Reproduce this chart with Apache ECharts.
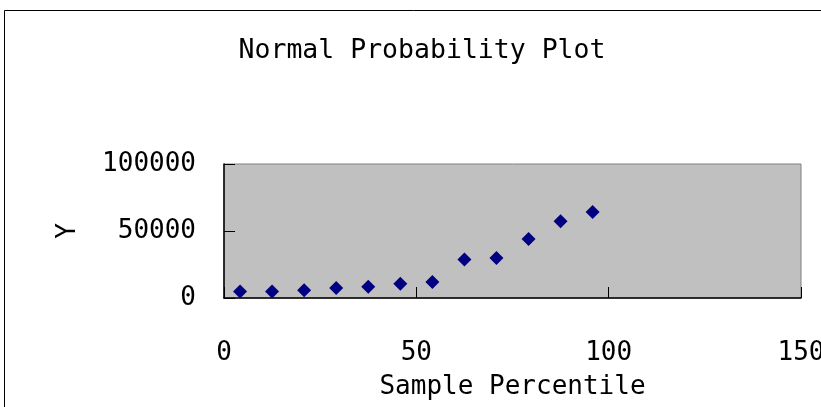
<!DOCTYPE html>
<html>
<head>
<meta charset="utf-8">
<title>Normal Probability Plot</title>
<script src="https://cdn.jsdelivr.net/npm/echarts@6/dist/echarts.min.js"></script>
<style>
  html, body { margin: 0; padding: 0; background: #fff; }
  #chart { width: 821px; height: 407px; }
</style>
</head>
<body>
<div id="chart"></div>
<script>
// Sample percentiles ((i - 0.5) / n * 100) and the sorted sample values
const percentiles = [4.17, 12.5, 20.83, 29.17, 37.5, 45.83, 54.17, 62.5, 70.83, 79.17, 87.5, 95.83];
const sampleValues = [4900, 4900, 5700, 7500, 8400, 10700, 11900, 28800, 29800, 44000, 57200, 64200];

const xTicks = { min: 0, max: 150, interval: 50 };
const yTicks = { min: 0, max: 100000, interval: 50000 };

const FONT = '"DejaVu Sans Mono", "Liberation Mono", monospace';

const points = percentiles.map((p, i) => [p, sampleValues[i]]);

const chart = echarts.init(document.getElementById('chart'), null, { renderer: 'canvas' });

chart.setOption({
  backgroundColor: '#ffffff',
  animation: false,
  title: {
    text: 'Normal Probability Plot',
    left: 417,
    top: 33,
    textAlign: 'center',
    textStyle: { fontFamily: FONT, fontSize: 26.5, fontWeight: 'normal', color: '#000' }
  },
  graphic: [{
    type: 'rect',
    shape: { x: 4.5, y: 10.5, width: 900, height: 500 },
    style: { fill: 'none', stroke: '#000', lineWidth: 1 },
    silent: true,
    z: -1
  }],
  grid: {
    left: 224,
    top: 164,
    right: 20,
    bottom: 109,
    outerBoundsMode: 'none',
    containLabel: false,
    show: true,
    backgroundColor: '#c0c0c0',
    borderColor: '#808080',
    borderWidth: 1
  },
  xAxis: {
    type: 'value',
    min: xTicks.min,
    max: xTicks.max,
    interval: xTicks.interval,
    name: 'Sample Percentile',
    nameLocation: 'middle',
    nameGap: 76,
    nameTextStyle: { fontFamily: FONT, fontSize: 26, color: '#000' },
    axisLine: { show: true, onZero: false, lineStyle: { color: '#000', width: 1.5 } },
    axisTick: { show: true, inside: true, length: 11, lineStyle: { color: '#000', width: 1 } },
    axisLabel: { fontFamily: FONT, fontSize: 26, color: '#000', margin: 42, formatter: v => String(v) },
    splitLine: { show: false }
  },
  yAxis: {
    type: 'value',
    min: yTicks.min,
    max: yTicks.max,
    interval: yTicks.interval,
    name: 'Y',
    nameLocation: 'middle',
    nameGap: 143,
    nameRotate: 90,
    nameTextStyle: { fontFamily: FONT, fontSize: 26, color: '#000' },
    axisLine: { show: true, onZero: false, lineStyle: { color: '#000', width: 1.5 } },
    axisTick: { show: true, inside: true, length: 11, lineStyle: { color: '#000', width: 1 } },
    axisLabel: {
      fontFamily: FONT, fontSize: 26, color: '#000', margin: 28,
      padding: [6, 0, 0, 0],
      formatter: v => String(v)
    },
    splitLine: { show: false }
  },
  series: [{
    type: 'scatter',
    data: points,
    symbol: 'diamond',
    symbolSize: 14,
    itemStyle: { color: '#000080', opacity: 1 }
  }]
});
</script>
</body>
</html>
